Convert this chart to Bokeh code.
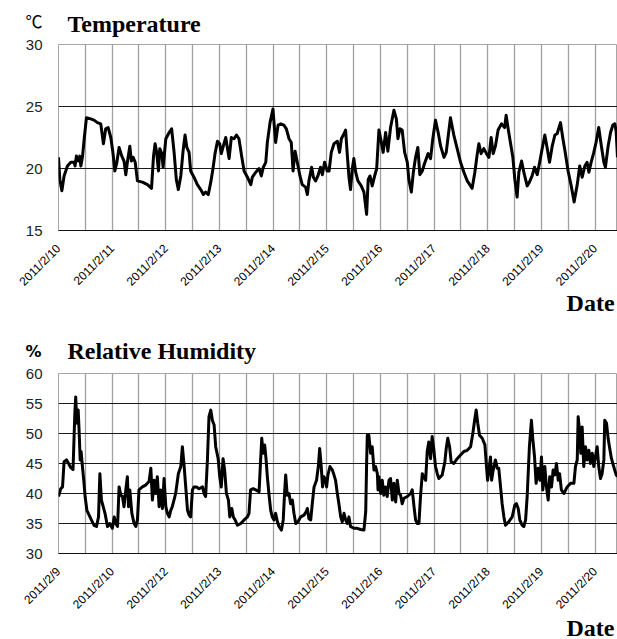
import math
from bokeh.plotting import figure
from bokeh.layouts import column
from bokeh.models import Range1d, FixedTicker, Label
from bokeh.embed import file_html
from bokeh.resources import INLINE

# ---- data: (hours since first category, value) ----
temperature = [
    (0.0, 20.9), (0.6, 19.1), (1.5, 18.2), (2.5, 19.4), (4.0, 20.2), (5.5, 20.5), (7.0, 20.5), (7.4, 20.2),
    (8.0, 21.0), (8.9, 20.6), (9.5, 21.0), (10.0, 20.2), (10.7, 20.9), (11.5, 22.4), (12.5, 24.1), (14.4, 24.0),
    (15.9, 23.9), (17.4, 23.7), (18.9, 23.6), (20.1, 22.0), (21.1, 23.2), (22.2, 23.3), (23.4, 22.5), (24.4, 21.2),
    (25.2, 19.8), (26.1, 20.5), (27.1, 21.7), (28.3, 21.0), (29.3, 20.6), (30.1, 19.5), (30.8, 20.5), (31.9, 21.8),
    (32.6, 20.6), (33.4, 20.9), (34.3, 20.5), (35.3, 19.0), (37.5, 18.9), (39.8, 18.7), (41.6, 18.4), (42.5, 21.0),
    (43.2, 22.0), (43.9, 21.3), (44.7, 19.8), (45.3, 21.6), (46.2, 21.2), (46.8, 20.1), (48.0, 22.4), (49.5, 22.9),
    (50.6, 23.2), (51.7, 21.3), (52.7, 19.1), (53.6, 18.3), (54.7, 19.4), (55.7, 21.4), (56.6, 22.7), (57.4, 21.7),
    (58.4, 21.3), (59.1, 19.8), (60.6, 19.3), (62.1, 18.7), (63.6, 18.3), (64.8, 17.9), (65.8, 18.1), (67.0, 17.9),
    (68.1, 18.9), (69.1, 20.0), (70.0, 21.2), (71.1, 22.2), (72.1, 22.0), (72.8, 21.2), (73.7, 21.8), (74.8, 22.5),
    (75.5, 21.7), (76.3, 20.8), (77.3, 22.5), (78.5, 22.4), (79.6, 22.7), (80.7, 22.4), (81.9, 21.0), (83.0, 19.8),
    (84.5, 19.3), (86.0, 18.7), (86.7, 19.3), (88.2, 19.7), (89.7, 20.0), (90.7, 19.4), (91.6, 20.1), (92.7, 20.5),
    (93.4, 22.1), (94.6, 23.7), (95.9, 24.8), (97.1, 22.1), (98.2, 23.5), (99.4, 23.6), (100.8, 23.5), (101.9, 23.2),
    (103.1, 22.4), (104.1, 22.1), (104.9, 19.8), (105.8, 21.4), (106.8, 20.5), (108.0, 19.4), (109.0, 18.7), (110.5, 18.5),
    (111.3, 17.9), (112.0, 19.0), (113.2, 20.1), (114.0, 19.3), (115.0, 19.0), (116.0, 19.4), (117.2, 20.1), (118.0, 19.5),
    (119.0, 20.5), (120.2, 19.8), (121.0, 19.8), (122.0, 21.3), (123.2, 22.0), (124.7, 22.2), (125.7, 21.3), (126.5, 22.4),
    (127.7, 22.8), (128.4, 23.1), (129.2, 21.0), (129.9, 19.3), (130.6, 18.3), (131.4, 20.0), (132.1, 20.8), (132.9, 19.7),
    (133.9, 19.0), (135.4, 18.6), (136.6, 18.1), (137.8, 16.3), (138.5, 19.1), (139.3, 19.4), (140.3, 18.6), (141.4, 19.4),
    (142.3, 20.0), (143.3, 23.1), (144.1, 22.4), (145.2, 21.3), (146.3, 22.9), (147.3, 21.4), (148.5, 23.3), (150.0, 24.7),
    (151.1, 24.0), (151.8, 22.4), (152.7, 23.2), (153.7, 23.1), (154.8, 21.3), (156.0, 20.5), (156.7, 19.1), (157.8, 18.1),
    (158.7, 19.7), (159.7, 20.9), (160.7, 21.7), (161.6, 19.5), (162.7, 19.8), (163.7, 20.4), (165.3, 21.2), (166.4, 20.8),
    (167.4, 22.4), (168.6, 23.9), (169.8, 22.9), (170.9, 21.8), (172.4, 20.9), (173.4, 21.3), (175.3, 24.1), (176.8, 22.7),
    (178.3, 21.6), (179.8, 20.5), (181.3, 19.7), (182.8, 19.0), (185.0, 18.4), (186.2, 19.7), (187.3, 21.2), (188.0, 22.0),
    (189.0, 21.2), (190.2, 21.6), (191.4, 21.2), (192.5, 20.9), (193.5, 22.5), (194.4, 21.2), (195.4, 21.8), (196.6, 23.1),
    (198.1, 23.6), (199.5, 23.3), (200.2, 24.3), (201.0, 23.3), (202.2, 22.0), (203.2, 20.9), (204.1, 19.1), (205.1, 17.7),
    (205.9, 19.7), (207.1, 20.6), (208.1, 19.7), (209.6, 18.6), (210.6, 18.9), (211.8, 19.4), (212.9, 20.1), (214.1, 19.5),
    (215.3, 20.6), (216.3, 21.6), (217.5, 22.7), (218.5, 21.7), (219.6, 20.5), (220.8, 21.8), (222.0, 22.7), (223.0, 22.8),
    (224.5, 23.7), (225.5, 22.5), (226.7, 21.2), (227.9, 19.8), (229.3, 18.6), (230.6, 17.3), (232.0, 18.7), (233.1, 20.2),
    (234.2, 19.3), (235.4, 20.2), (236.4, 20.5), (237.2, 19.7), (238.2, 20.5), (239.4, 21.3), (240.4, 22.1), (241.6, 23.3),
    (242.8, 21.8), (243.9, 20.5), (244.6, 20.1), (245.8, 21.8), (246.9, 22.9), (247.9, 23.5), (248.8, 23.6), (249.4, 23.0),
    (250.0, 20.9),
]

humidity = [
    (0.0, 39.5), (1.0, 40.8), (1.8, 41.1), (2.5, 45.3), (3.6, 45.6), (4.5, 45.0), (5.5, 44.3), (6.5, 44.0),
    (7.3, 53.3), (7.7, 56.1), (8.2, 51.7), (8.8, 53.9), (9.2, 50.6), (9.7, 45.6), (10.1, 47.0), (10.7, 44.5),
    (11.3, 42.2), (11.9, 39.5), (12.7, 37.2), (13.7, 36.4), (14.7, 35.6), (15.9, 34.7), (17.0, 34.5), (17.9, 36.1),
    (18.5, 43.3), (19.2, 38.9), (20.0, 37.8), (20.8, 36.7), (21.9, 34.5), (22.9, 35.0), (24.1, 34.2), (24.9, 36.1),
    (25.6, 35.0), (26.4, 34.5), (27.1, 41.1), (27.9, 39.7), (28.6, 39.5), (29.3, 37.8), (30.1, 40.6), (30.8, 42.8),
    (31.3, 37.8), (31.9, 40.6), (32.8, 36.7), (33.8, 35.0), (34.6, 34.5), (35.3, 35.6), (36.0, 40.6), (37.5, 41.1),
    (39.0, 41.4), (40.5, 42.0), (41.3, 44.2), (42.0, 38.9), (42.8, 42.2), (43.5, 40.0), (44.2, 42.8), (45.0, 37.8),
    (45.7, 40.6), (46.5, 37.5), (47.2, 42.5), (48.0, 37.8), (48.7, 36.7), (49.5, 36.1), (50.2, 37.2), (50.9, 37.8),
    (52.4, 40.0), (53.6, 43.3), (54.7, 44.5), (55.4, 47.8), (56.2, 44.5), (56.9, 41.1), (57.7, 37.2), (58.4, 36.4),
    (59.1, 36.1), (59.9, 40.6), (60.6, 41.1), (61.7, 41.1), (62.9, 40.8), (64.4, 41.1), (65.1, 40.0), (65.8, 39.5),
    (66.6, 45.6), (67.3, 52.8), (68.1, 53.9), (68.8, 52.2), (69.6, 51.4), (70.3, 47.8), (71.4, 45.8), (72.1, 42.8),
    (72.8, 41.1), (73.6, 45.8), (74.3, 43.9), (75.1, 40.0), (76.0, 38.9), (76.6, 36.1), (77.5, 37.5), (78.2, 36.1),
    (79.0, 35.6), (80.0, 34.7), (81.5, 35.0), (83.0, 35.6), (84.5, 36.1), (85.2, 36.7), (85.9, 40.6), (87.1, 40.8),
    (88.2, 40.6), (89.7, 40.3), (90.4, 45.6), (90.9, 49.2), (91.5, 46.7), (92.2, 48.1), (92.8, 45.8), (93.4, 42.8),
    (94.1, 40.0), (94.9, 37.2), (95.6, 36.1), (96.4, 35.6), (97.1, 36.7), (97.9, 35.3), (98.6, 34.5), (99.7, 33.9),
    (100.5, 35.6), (101.1, 40.0), (101.6, 43.1), (102.3, 39.7), (103.1, 40.0), (103.8, 38.3), (104.6, 38.9), (105.3, 36.7),
    (106.1, 35.0), (107.1, 35.3), (108.3, 36.1), (109.8, 36.4), (110.8, 37.0), (111.3, 37.5), (112.0, 35.8), (112.8, 35.6),
    (113.5, 38.3), (114.3, 41.1), (115.4, 42.2), (116.2, 44.5), (116.8, 47.5), (117.5, 44.5), (118.1, 41.1), (118.7, 42.8),
    (119.5, 42.2), (119.9, 41.1), (120.5, 43.1), (121.4, 44.5), (122.5, 43.9), (123.2, 43.1), (123.9, 42.2), (124.7, 40.0),
    (125.4, 38.3), (126.2, 36.1), (126.9, 35.3), (127.7, 36.7), (128.4, 35.6), (129.2, 35.0), (129.9, 36.1), (130.6, 34.5),
    (132.1, 34.2), (133.6, 34.2), (135.1, 34.0), (136.6, 33.9), (137.4, 37.0), (137.8, 45.0), (138.1, 49.7), (138.8, 49.7),
    (139.6, 46.7), (140.3, 47.8), (141.1, 43.9), (141.8, 44.5), (142.6, 43.3), (142.9, 40.6), (143.3, 42.8), (144.1, 40.0),
    (144.8, 42.2), (145.5, 39.7), (146.3, 41.1), (147.0, 39.5), (147.8, 42.2), (148.5, 42.5), (149.3, 38.9), (150.0, 41.7),
    (150.8, 38.6), (151.5, 42.2), (152.3, 40.0), (153.0, 39.7), (153.7, 38.3), (154.5, 39.2), (156.0, 39.5), (157.5, 40.0),
    (158.2, 40.6), (159.0, 37.8), (159.7, 35.6), (160.4, 35.0), (161.2, 35.0), (161.9, 39.5), (162.7, 43.3), (164.2, 42.2),
    (164.9, 47.0), (165.6, 48.6), (166.4, 45.8), (167.1, 49.5), (167.9, 47.2), (168.6, 44.5), (169.4, 43.3), (170.1, 42.5),
    (171.6, 43.1), (172.8, 45.3), (173.4, 47.5), (174.1, 49.2), (174.9, 47.8), (175.6, 45.3), (176.8, 45.0), (178.3, 45.8),
    (179.8, 46.4), (181.3, 47.0), (182.8, 47.2), (184.3, 47.8), (185.3, 50.0), (186.1, 52.2), (186.8, 53.9), (187.5, 51.7),
    (188.3, 49.7), (189.5, 49.2), (190.7, 48.1), (191.4, 44.5), (191.9, 42.2), (192.5, 43.9), (193.2, 46.1), (193.7, 42.2),
    (194.4, 43.9), (195.4, 45.6), (196.2, 44.2), (196.9, 44.2), (197.7, 41.1), (198.4, 38.3), (199.2, 36.1), (199.9, 34.7),
    (201.4, 35.3), (202.9, 36.1), (204.1, 38.1), (204.8, 38.3), (205.6, 37.5), (206.3, 35.6), (207.4, 34.7), (208.1, 34.5),
    (208.9, 35.6), (209.6, 39.5), (210.6, 47.8), (211.5, 52.2), (212.1, 49.2), (212.9, 46.1), (213.6, 41.7), (214.5, 44.2),
    (215.3, 42.2), (216.0, 46.1), (216.6, 40.6), (217.5, 44.5), (218.2, 41.1), (219.0, 38.9), (219.7, 42.8), (220.5, 41.1),
    (221.2, 43.9), (222.0, 43.1), (222.7, 45.0), (223.5, 42.2), (224.1, 43.3), (224.9, 40.6), (226.0, 40.0), (227.5, 41.1),
    (229.0, 41.7), (230.5, 41.7), (231.2, 44.5), (232.0, 45.6), (232.4, 52.8), (233.0, 50.6), (233.6, 46.7), (234.2, 51.1),
    (234.9, 44.5), (235.7, 47.8), (236.4, 45.6), (237.2, 47.2), (237.9, 45.0), (238.7, 46.7), (239.4, 44.5), (240.1, 46.1),
    (240.9, 47.8), (241.6, 44.5), (242.4, 42.5), (243.1, 43.3), (243.9, 45.6), (244.3, 52.2), (245.1, 51.7), (245.8, 49.2),
    (246.4, 47.8), (247.3, 45.8), (248.3, 44.5), (249.4, 43.1), (250.0, 42.8),
]

label_hours = [0, 24, 48, 72, 96, 120, 144, 168, 192, 216, 240]
grid_hours = [12, 24, 36, 48, 60, 72, 84, 96, 108, 120, 132, 144, 156, 168, 180, 192, 204, 216, 228, 240]
temp_labels = ["2011/2/10", "2011/2/11", "2011/2/12", "2011/2/13", "2011/2/14", "2011/2/15",
               "2011/2/16", "2011/2/17", "2011/2/18", "2011/2/19", "2011/2/20"]
hum_labels = ["2011/2/9", "2011/2/10", "2011/2/12", "2011/2/13", "2011/2/14", "2011/2/15",
              "2011/2/16", "2011/2/17", "2011/2/18", "2011/2/19", "2011/2/20"]
temp_yticks = [15, 20, 25, 30]
hum_yticks = [30, 35, 40, 45, 50, 55, 60]

W = 617


def make_panel(series, y_lo, y_hi, yticks, inner_lines, tick_labels, height, top, bottom):
    p = figure(width=W, height=height, output_backend="svg", toolbar_location=None,
               x_range=Range1d(0, 250), y_range=Range1d(y_lo, y_hi),
               min_border_left=58, min_border_right=0, min_border_top=top, min_border_bottom=bottom)
    p.title.visible = False
    p.background_fill_color = "white"
    p.border_fill_color = "white"
    p.outline_line_color = "#a6a6a6"
    p.outline_line_width = 1

    p.xgrid.ticker = FixedTicker(ticks=grid_hours)
    p.xgrid.grid_line_color = "#a0a0a0"
    p.xgrid.grid_line_width = 1.3
    p.ygrid.ticker = FixedTicker(ticks=inner_lines)
    p.ygrid.grid_line_color = "#1a1a1a"
    p.ygrid.grid_line_width = 1

    xa = p.xaxis[0]
    xa.ticker = FixedTicker(ticks=label_hours)
    xa.major_label_overrides = {h: t for h, t in zip(label_hours, tick_labels)}
    xa.major_label_orientation = math.pi / 4
    xa.major_label_text_font = "Liberation Sans"
    xa.major_label_text_font_size = "12px"
    xa.major_label_text_color = "black"
    xa.major_label_standoff = 16
    xa.major_tick_in = 0
    xa.major_tick_out = 0
    xa.minor_tick_line_color = None
    xa.axis_line_color = "#111111"
    xa.axis_line_width = 1

    ya = p.yaxis[0]
    ya.ticker = FixedTicker(ticks=yticks)
    ya.major_label_text_font = "Liberation Sans"
    ya.major_label_text_font_size = "15px"
    ya.major_label_text_color = "#222222"
    ya.major_label_standoff = 16
    ya.major_tick_in = 0
    ya.major_tick_out = 0
    ya.minor_tick_line_color = None
    ya.axis_line_color = None

    xs = [s[0] for s in series]
    ys = [s[1] for s in series]
    p.line(xs, ys, line_color="black", line_width=3, line_join="round")
    return p


serif = dict(text_font="Liberation Serif", text_font_style="bold", text_font_size="24px",
             text_color="black", text_baseline="alphabetic")
unit_font = dict(text_color="black", text_baseline="alphabetic")

# --- temperature panel: texts live in the side panels, in data units of the panel
p1 = make_panel(temperature, 15, 30, temp_yticks, [20, 25], temp_labels, 296, 44, 66)
p1.add_layout(Label(x=4.0, y=31.69, text="Temperature", **serif), "above")
p1.add_layout(Label(x=-14.8, y=31.94, text="\u2103", text_font="Noto Sans CJK JP",
                    text_font_size="17px", **unit_font), "left")

# --- humidity panel (its top band also carries the caption of the panel above)
p2 = make_panel(humidity, 30, 60, hum_yticks, [35, 40, 45, 50, 55], hum_labels, 323, 77, 66)
p2.add_layout(Label(x=248.7, y=71.8, text="Date", text_align="right", **serif), "above")
p2.add_layout(Label(x=4.0, y=63.67, text="Relative Humidity", **serif), "above")
p2.add_layout(Label(x=-14.8, y=63.67, text="%", text_font="DejaVu Sans", text_font_style="bold",
                    text_font_size="16px", **unit_font), "left")

# --- closing band with the last axis caption
strip = figure(width=W, height=20, output_backend="svg", toolbar_location=None,
               x_range=Range1d(58, W), y_range=Range1d(20, 0),
               x_axis_type=None, y_axis_type=None,
               min_border_left=58, min_border_right=0, min_border_top=0, min_border_bottom=0)
strip.title.visible = False
strip.outline_line_color = None
strip.background_fill_color = "white"
strip.border_fill_color = "white"
strip.grid.visible = False
strip.add_layout(Label(x=614, y=8, text="Date", text_align="right", **serif))

layout = column(p1, p2, strip, spacing=0)
open("out.html", "w").write(file_html(layout, INLINE))
